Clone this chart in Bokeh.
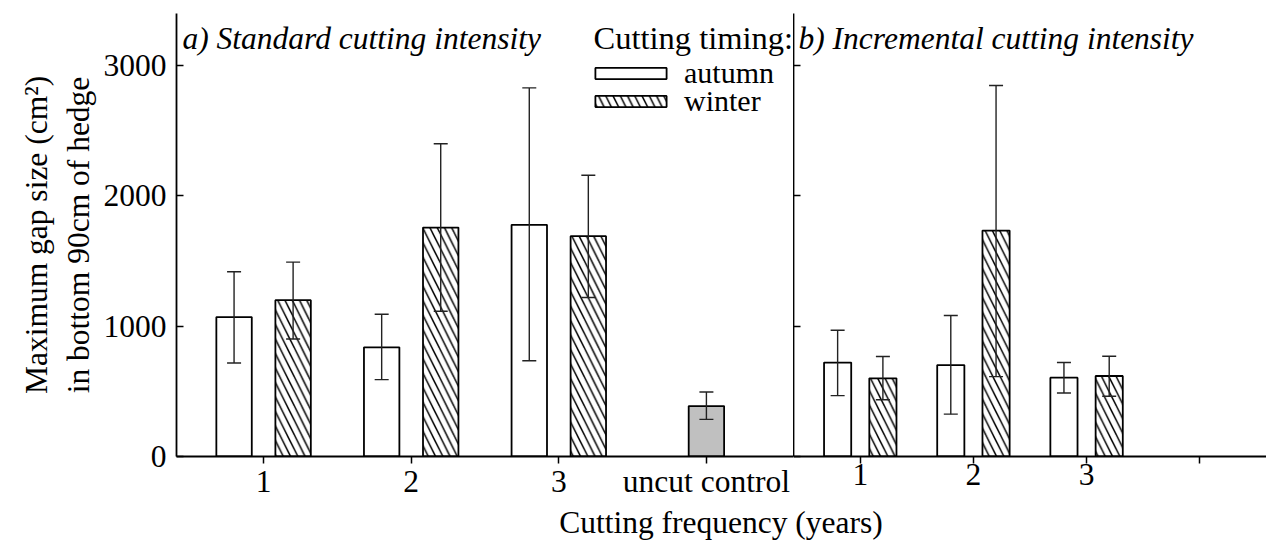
from bokeh.plotting import figure
from bokeh.models import (ColumnDataSource, Whisker, TeeHead, FixedTicker, Legend,
                          LegendItem, Label, Div)
from bokeh.layouts import row, column
from bokeh.embed import file_html
from bokeh.resources import INLINE

FONT = "Liberation Serif"
FS = "31.5px"

# ---- data ----
freq = [1, 2, 3]
freq_labels = {1: "1", 2: "2", 3: "3", 4: "uncut control"}
freq_labels_b = {1: "1", 2: "2", 3: "3", 4: ""}

# panel a: standard cutting intensity
a_autumn = [1070, 838, 1778]
a_autumn_lo = [718, 590, 735]
a_autumn_hi = [1418, 1092, 2829]
a_winter = [1200, 1757, 1691]
a_winter_lo = [902, 1115, 1220]
a_winter_hi = [1492, 2400, 2159]

control_pos = [4]
control = [387]
control_lo = [285]
control_hi = [495]

# panel b: incremental cutting intensity
b_autumn = [721, 702, 605]
b_autumn_lo = [467, 325, 487]
b_autumn_hi = [969, 1082, 721]
b_winter = [600, 1734, 618]
b_winter_lo = [436, 613, 462]
b_winter_hi = [767, 2847, 769]

OFF = 0.2
BW = 0.24
LW = 1.8
TITLE_Y = 418


def make_fig(left_border, fw):
    p = figure(x_range=(0.41, 4.59), y_range=(0, 3400),
               frame_width=fw, frame_height=443,
               min_border_left=left_border, min_border_right=0,
               min_border_top=13, min_border_bottom=50,
               output_backend="svg", toolbar_location=None)
    p.outline_line_color = None
    p.xgrid.visible = False
    p.ygrid.visible = False
    p.background_fill_color = "white"
    p.border_fill_color = "white"
    for ax in p.axis:
        ax.axis_line_width = LW
        ax.axis_line_color = "black"
        ax.major_tick_line_width = 1.5
        ax.major_tick_line_color = "black"
        ax.minor_tick_line_color = None
        ax.major_label_text_font = FONT
        ax.major_label_text_font_size = FS
        ax.major_label_text_color = "black"
        ax.axis_label_text_font = FONT
        ax.axis_label_text_font_size = FS
        ax.axis_label_text_font_style = "normal"
        ax.axis_label_text_color = "black"
    p.xaxis.ticker = FixedTicker(ticks=[1, 2, 3, 4])
    p.xaxis.major_tick_in = 0
    p.xaxis.major_tick_out = 7
    p.xaxis.major_label_standoff = 0
    p.yaxis.ticker = FixedTicker(ticks=[0, 1000, 2000, 3000])
    p.yaxis.major_tick_in = 7
    p.yaxis.major_tick_out = 0
    return p


def bars(p, xs, tops, lo, hi, off, fill, hatch=None):
    src = ColumnDataSource(dict(x=[x + off for x in xs], top=tops, lo=lo, hi=hi))
    kw = {}
    if hatch:
        kw = dict(hatch_pattern=hatch, hatch_color="black", hatch_weight=1.5, hatch_scale=14.5)
    r = p.vbar(x="x", top="top", width=BW, bottom=0, source=src, fill_color=fill,
               line_color="black", line_width=LW, **kw)
    w = Whisker(source=src, base="x", upper="hi", lower="lo", dimension="height",
                line_color="#222222", line_width=1.4,
                upper_head=TeeHead(size=14, line_width=1.4, line_color="#222222"),
                lower_head=TeeHead(size=14, line_width=1.4, line_color="#222222"))
    w.level = "overlay"
    p.add_layout(w)
    return r


def legend_for(item, y):
    return Legend(items=[item], location=(410, y),
                  label_text_font=FONT, label_text_font_size="30px", label_text_color="black",
                  label_height=26,
                  glyph_width=89, glyph_height=14, label_standoff=9,
                  padding=0, margin=0, spacing=0,
                  border_line_color=None, background_fill_alpha=0)


# ---- panel a ----
pa = make_fig(176, 617)
pa.xaxis.major_label_overrides = freq_labels
pa.yaxis.axis_label = "Maximum gap size (cm\u00b2)\nin bottom 90cm of hedge"
pa.yaxis.axis_label_standoff = 5
pa.yaxis.major_label_standoff = 10
ra = bars(pa, freq, a_autumn, a_autumn_lo, a_autumn_hi, -OFF, "white")
rw = bars(pa, freq, a_winter, a_winter_lo, a_winter_hi, OFF, "white", hatch="\\")
bars(pa, control_pos, control, control_lo, control_hi, 0, "#c0c0c0")

pa.add_layout(Label(x=6, y=TITLE_Y, x_units="screen", y_units="screen",
                    text="a) Standard cutting intensity", text_font=FONT,
                    text_font_size=FS, text_font_style="italic",
                    text_baseline="alphabetic", text_color="black"))
pa.add_layout(Label(x=417, y=TITLE_Y + 1, x_units="screen", y_units="screen",
                    text="Cutting timing:", text_font=FONT,
                    text_font_size="32.5px", text_font_style="normal",
                    text_baseline="alphabetic", text_color="black"))
pa.add_layout(legend_for(LegendItem(label="autumn", renderers=[ra]), 366))
pa.add_layout(legend_for(LegendItem(label="winter", renderers=[rw]), 338))

# ---- panel b ----
pb = make_fig(0, 473)
pb.xaxis.major_label_overrides = freq_labels_b
pb.yaxis.major_label_overrides = {0: "", 1000: "", 2000: "", 3000: ""}
bars(pb, freq, b_autumn, b_autumn_lo, b_autumn_hi, -OFF, "white")
bars(pb, freq, b_winter, b_winter_lo, b_winter_hi, OFF, "white", hatch="\\")
pb.add_layout(Label(x=5, y=TITLE_Y, x_units="screen", y_units="screen",
                    text="b) Incremental cutting intensity", text_font=FONT,
                    text_font_size=FS, text_font_style="italic",
                    text_baseline="alphabetic", text_color="black"))

xlabel = Div(text='<div style="display:block;width:1090px;text-align:center;'
                  'font-family:\'Liberation Serif\',serif;'
                  'font-size:31.5px;color:black;line-height:34px;">Cutting frequency (years)</div>',
             width=1090, height=34, margin=(0, 0, 0, 176),
             styles={"text-align": "center", "width": "1090px"})

layout = column(row(pa, pb, spacing=0), xlabel, spacing=0)

open("out.html", "w").write(file_html(layout, INLINE))
